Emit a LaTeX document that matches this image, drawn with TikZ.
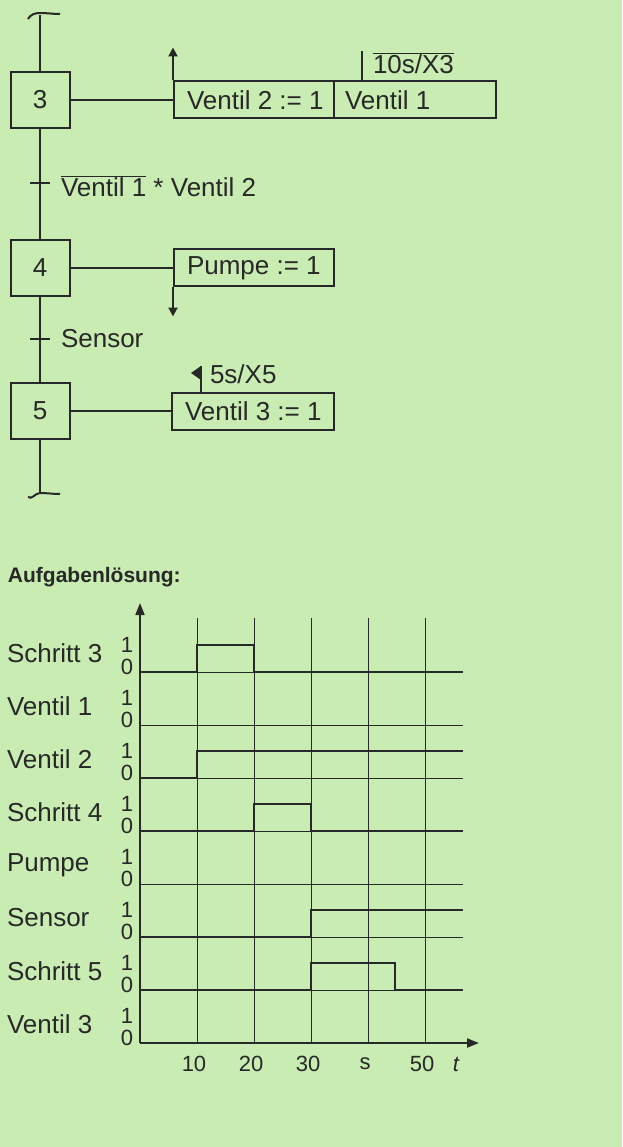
\documentclass[tikz,border=0pt]{standalone}
\usepackage{fontspec}
\setmainfont{Liberation Sans}
\usetikzlibrary{arrows.meta}
\definecolor{bgreen}{RGB}{200,236,178}
\definecolor{ink}{RGB}{40,40,40}
\tikzset{
    stepbox/.style={draw=ink, line width=2pt, minimum width=59pt, minimum height=56pt, inner sep=0pt},
    actbox/.style={draw=ink, line width=2pt, minimum height=37pt, inner sep=0pt, anchor=west},
    sig/.style={line width=2.6pt, ink},
    grid/.style={line width=0.8pt, ink},
    lbl/.style={font=\fontsize{22}{24}\selectfont},
    rowlbl/.style={font=\fontsize{26}{28}\selectfont},
}
\begin{document}
\begin{tikzpicture}[x=1pt, y=-1pt, font=\fontsize{26}{28}\selectfont, line width=2pt, ink]
    \fill[bgreen] (0,0) rectangle (622,1147);
    \useasboundingbox (0,0) rectangle (622,1147);

    % sequence chart
    \node[stepbox] (s3) at (40,100) {3};
    \node[stepbox] (s4) at (40,268) {4};
    \node[stepbox] (s5) at (40,411) {5};
    \coordinate (top) at (40,15);
    \coordinate (bot) at (40,493);
    \draw (28,19) to[out=60,in=180] (40,13) to[out=0,in=180] (60,14);
    \draw (28,497) to[out=-40,in=180] (40,493) to[out=0,in=180] (60,494);
    \draw (top) -- (s3.north);
    \draw (s3.south) -- (s4.north);
    \draw (s4.south) -- (s5.north);
    \draw (s5.south) -- (bot);

    \node[actbox, minimum width=160pt] (a3) at (173,100) {};
    \node[actbox, minimum width=162pt] (a3b) at (333,100) {};
    \node[anchor=west, inner sep=0pt] at (186,100) {Ventil 2 := 1};
    \node[anchor=west, inner sep=0pt] at (344,100) {Ventil 1};
    \draw (s3.east) -- (a3.west);
    \draw[-{Triangle[length=9pt,width=9pt]}] (a3.north west) -- ++(0,-33);
    \draw (362,81) -- (362,51);
    \node[anchor=south west, inner sep=0pt] at (372,75) {$\overline{\mbox{10s/X3}}$};

    \draw (30,183) -- (50,183);
    \node[anchor=west, inner sep=0pt] at (60,186) {$\overline{\mbox{Ventil 1}}$ * Ventil 2};

    \node[actbox, minimum width=160pt] (a4) at (173,268) {};
    \node[anchor=west, inner sep=0pt] at (186,268) {Pumpe := 1};
    \draw (s4.east) -- (a4.west);
    \draw[-{Triangle[length=9pt,width=9pt]}] (a4.south west) -- ++(0,29);

    \draw (30,339) -- (50,339);
    \node[anchor=west, inner sep=0pt] at (60,339) {Sensor};

    \node[actbox, minimum width=162pt] (a5) at (171,411) {};
    \node[anchor=west, inner sep=0pt] at (184,411) {Ventil 3 := 1};
    \draw (s5.east) -- (a5.west);
    \draw (201,392) -- (201,366);
    \fill (201,366) -- (201,380) -- (191,373) -- cycle;
    \node[anchor=west, inner sep=0pt] at (209,374) {5s/X5};

    % timing diagram
    \node[anchor=west, inner sep=0pt, font=\fontsize{21}{23}\selectfont\bfseries] (title) at (7,577) {Aufgabenlösung:};
    \coordinate (o) at (140,1043);
    \foreach \x in {1,...,5}
        \draw[grid] (140+57*\x,618) -- (140+57*\x,1043);
    \foreach \n/\lab in {0/Schritt 3,1/Ventil 1,2/Ventil 2,3/Schritt 4,4/Pumpe,5/Sensor,6/Schritt 5,7/Ventil 3} {
        \pgfmathsetmacro\z{672+53.0*\n}
        \draw[grid] (140,\z) -- (463,\z);
        \node[anchor=west, inner sep=0pt, rowlbl] at (6,\z-19) {\lab};
        \node[lbl] at (127,\z-27) {1};
        \node[lbl] at (127,\z-5) {0};
    }
    \draw[-{Triangle[length=12pt,width=9pt]}] (o) -- (140,603);
    \draw[-{Triangle[length=12pt,width=9pt]}] (o) -- (479,1043);
    % signals
    \draw[sig] (140,672) -- (197,672) -- (197,645) -- (254,645) -- (254,672) -- (463,672);
    \draw[sig] (140,778) -- (197,778) -- (197,751) -- (463,751);
    \draw[sig] (140,831) -- (254,831) -- (254,804) -- (311,804) -- (311,831) -- (463,831);
    \draw[sig] (140,937) -- (311,937) -- (311,910) -- (463,910);
    \draw[sig] (140,990) -- (311,990) -- (311,963) -- (395,963) -- (395,990) -- (463,990);
    \foreach \x/\t in {1/10,2/20,3/30,4/s,5/50}
        \node[lbl] at (137+57*\x,1064) {\t};
    \node[lbl, font=\fontsize{22}{24}\selectfont\itshape] at (456,1064) {t};
\end{tikzpicture}
\end{document}
